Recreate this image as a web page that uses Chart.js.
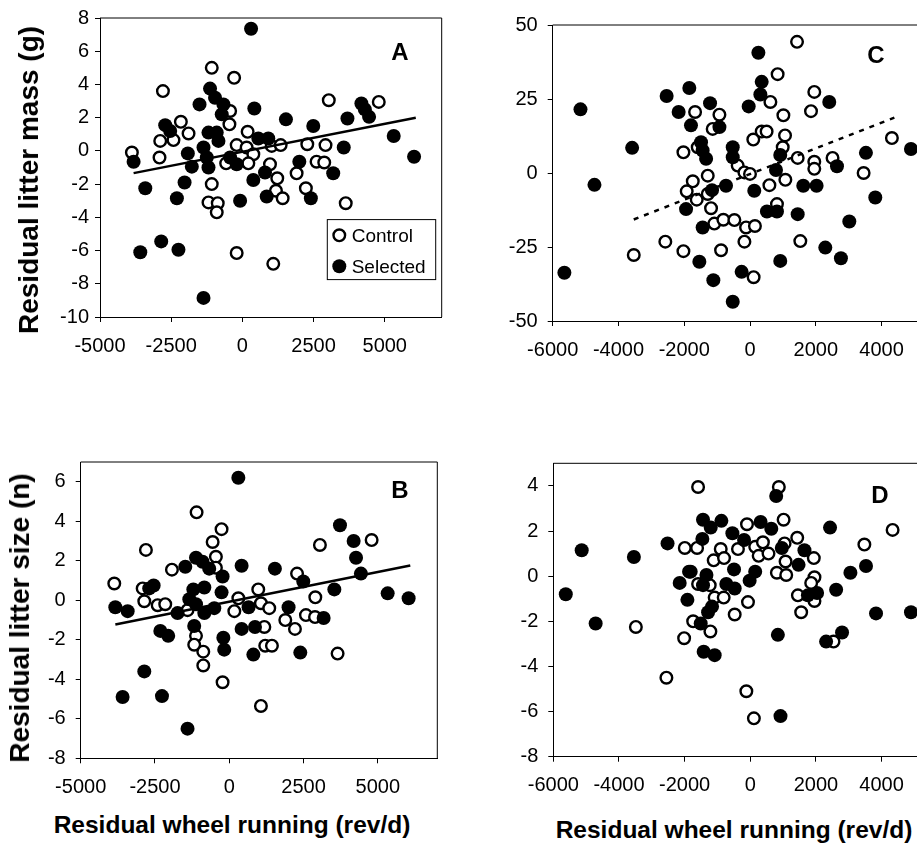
<!DOCTYPE html>
<html>
<head>
<meta charset="utf-8">
<title>Residual litter mass and size vs wheel running</title>
<script src="https://cdn.jsdelivr.net/npm/chart.js@4.4.1/dist/chart.umd.min.js"></script>
<style>
  html, body { margin: 0; padding: 0; background: #fff; width: 917px; height: 849px; overflow: hidden; }
  .panel { position: absolute; }
  .ttl { position: absolute; font-family: 'Liberation Sans', Arial, sans-serif; font-weight: bold; color: #000; white-space: nowrap; }
  .rot { transform: translate(-50%, -50%) rotate(-90deg); }
  .hor { transform: translate(-50%, -50%); }
</style>
</head>
<body>
<div class="panel" style="left:0px;top:0px;width:460px;height:380px"><canvas id="chartA"></canvas></div>
<div class="panel" style="left:0px;top:440px;width:460px;height:370px"><canvas id="chartB"></canvas></div>
<div class="panel" style="left:460px;top:0px;width:470px;height:380px"><canvas id="chartC"></canvas></div>
<div class="panel" style="left:460px;top:440px;width:470px;height:370px"><canvas id="chartD"></canvas></div>

<div class="ttl rot" style="left:29px;top:180px;font-size:28px">Residual litter mass (g)</div>
<div class="ttl rot" style="left:20px;top:618px;font-size:28px">Residual litter size (n)</div>
<div class="ttl hor" style="left:232px;top:825px;font-size:24.5px">Residual wheel running (rev/d)</div>
<div class="ttl hor" style="left:734px;top:830px;font-size:24.5px">Residual wheel running (rev/d)</div>

<script>
// tick labels
const xTicksAB = [-5000, -2500, 0, 2500, 5000];
const xTicksCD = [-6000, -4000, -2000, 0, 2000, 4000];
const yTicksA = [-10, -8, -6, -4, -2, 0, 2, 4, 6, 8];
const yTicksB = [-8, -6, -4, -2, 0, 2, 4, 6];
const yTicksC = [-50, -25, 0, 25, 50];
const yTicksD = [-8, -6, -4, -2, 0, 2, 4];

// A: residual litter mass (g) vs residual wheel running (rev/d)
const ctrlA = [[-3880,-0.1],[-2790,3.6],[-2885,0.6],[-2910,-0.4],[-2160,1.75],[-1890,1.05],[-2420,0.65],[-1075,5.0],[-290,4.4],[-430,2.4],[-455,1.6],[185,1.15],[-200,0.35],[150,0.2],[385,-0.2],[210,-0.75],[-570,-0.75],[-1075,-2.0],[-1190,-3.1],[-865,-3.15],[-900,-3.7],[-200,-6.15],[1085,-6.8],[970,-0.8],[1225,-1.65],[1180,-2.4],[1415,-2.85],[1030,0.3],[1345,0.35],[1905,-1.35],[2230,-2.25],[2280,0.4],[2920,0.35],[2605,-0.65],[2875,-0.7],[3035,3.05],[3630,-3.15],[4790,2.95]];
const selA = [[305,7.35],[-3820,-0.65],[-3410,-2.25],[-3585,-6.1],[-2850,-5.45],[-2245,-5.95],[-2300,-2.85],[-2030,-1.9],[-1775,-0.95],[-1915,-0.15],[-2710,1.55],[-2535,1.2],[-1365,-8.85],[-1505,2.8],[-1135,3.75],[-960,3.2],[-665,2.8],[-725,2.2],[-1190,1.1],[-900,1.1],[-840,0.6],[-1365,0.2],[-1250,-0.4],[-1190,-1.0],[-430,-0.4],[-200,-0.8],[-80,-3.0],[420,2.55],[560,0.75],[910,0.75],[385,-1.75],[795,-1.3],[855,-2.75],[1530,1.9],[2000,-0.65],[2405,-2.85],[2490,1.5],[3190,-1.35],[3560,0.2],[3690,1.95],[4180,2.85],[4450,2.05],[4300,2.5],[5315,0.9],[6030,-0.35]];
const lineA = [[-3820,-1.34],[6090,2.0]];

// B: residual litter size (n)
const ctrlB = [[-3870,0.85],[-2805,2.55],[-2915,0.6],[-2860,-0.05],[-2410,-0.25],[-2155,-0.2],[-1930,1.55],[-1100,4.45],[-260,3.6],[-560,2.95],[-450,2.2],[-450,1.65],[-1405,-0.5],[-1120,-1.8],[-1180,-2.25],[-875,-2.6],[-875,-3.3],[-225,-4.15],[305,0.1],[170,-0.55],[975,0.55],[1065,-0.15],[1345,-0.4],[1180,-1.35],[1210,-2.3],[1435,-2.3],[1065,-5.35],[1885,-1.0],[2210,-1.45],[2280,1.35],[2580,-0.75],[2885,-0.85],[2895,0.15],[3050,2.8],[3645,-2.7],[4790,3.05]];
const selB = [[305,6.2],[3725,3.8],[4185,3.0],[4265,2.15],[4430,1.35],[3535,0.55],[5330,0.35],[6035,0.1],[3175,-0.9],[2490,0.95],[2390,-2.65],[1995,-0.35],[1535,1.6],[810,-2.75],[415,-1.45],[865,-1.35],[415,1.75],[650,-0.35],[-225,1.2],[-260,0.4],[-170,-2.5],[-200,-1.9],[-1120,2.15],[-900,1.95],[-1480,1.7],[-675,1.6],[-840,0.65],[-1210,0.55],[-1345,0.05],[-1120,-0.2],[-840,-0.65],[-505,-0.4],[-1180,-1.3],[-2545,0.75],[-2695,0.6],[-3835,-0.35],[-3420,-0.55],[-2320,-1.55],[-2055,-1.8],[-1740,-0.65],[-2860,-3.6],[-3590,-4.9],[-2265,-4.85],[-1405,-6.5]];
const lineB = [[-3835,-1.23],[6090,1.76]];

// C: litter mass, second set
const ctrlC = [[1430,44.3],[840,33.4],[1955,27.4],[1855,20.9],[620,24.0],[1015,19.5],[-1670,20.6],[-930,19.7],[-1135,14.9],[100,11.3],[355,14.0],[505,14.0],[1065,12.7],[995,8.7],[-2025,7.0],[-1590,8.7],[1450,5.1],[1955,3.8],[1955,1.4],[2510,5.1],[3455,0.0],[4315,11.8],[-375,2.5],[-170,0.2],[0,-0.3],[590,-4.1],[1075,-2.3],[-1740,-2.8],[-1925,-6.2],[-1620,-9.0],[-1285,-0.9],[-1285,-7.1],[-1185,-11.9],[820,-10.5],[-1085,-17.1],[-810,-15.8],[-475,-15.9],[-120,-18.4],[150,-17.9],[-170,-23.2],[-2575,-23.2],[-2025,-26.4],[-880,-26.1],[-3535,-27.7],[1530,-23.0],[110,-35.2]];
const selC = [[255,40.6],[355,30.8],[315,26.5],[-40,22.5],[2410,24.0],[-1845,28.7],[-2535,26.0],[-2170,20.6],[-1215,23.6],[-1795,16.1],[-930,15.5],[-5155,21.5],[-3585,8.5],[-4730,-4.0],[-5645,-33.7],[-1490,10.4],[-1440,7.6],[-1335,4.8],[-525,8.7],[-525,5.3],[920,6.1],[790,1.0],[3525,6.8],[2645,2.3],[4895,8.1],[3810,-8.3],[1620,-4.3],[2025,-4.3],[130,-6.0],[-730,-4.3],[-1155,-5.8],[-1945,-12.2],[515,-13.0],[820,-13.0],[1450,-13.9],[-1440,-18.4],[3020,-16.4],[2290,-25.2],[2765,-28.8],[-1540,-30.0],[-1115,-36.2],[-255,-33.4],[-525,-43.5],[920,-29.7]];
const lineC = [[-3535,-15.7],[4390,18.7]];

// D: litter size, second set
const ctrlD = [[-1590,3.95],[870,3.95],[-100,2.3],[1015,2.5],[4335,2.05],[3475,1.4],[1430,1.7],[-1995,1.25],[-1620,1.25],[-900,1.2],[-375,1.2],[150,1.3],[385,1.5],[255,0.9],[555,1.0],[1045,1.45],[-1115,0.7],[-800,0.8],[1075,0.65],[1935,0.8],[810,0.15],[1095,0.05],[1955,-0.05],[1855,-0.3],[-1865,0.2],[-1590,-0.35],[-1235,-0.4],[-1085,-0.95],[-810,-0.95],[-70,-1.15],[-475,-1.7],[1450,-0.85],[1955,-1.1],[1550,-1.6],[-1740,-2.0],[-1215,-2.45],[-2015,-2.75],[-3485,-2.25],[2535,-2.9],[-2555,-4.5],[-120,-5.1],[110,-6.3]];
const selD = [[790,3.55],[-1440,2.5],[-1205,2.15],[-880,2.45],[315,2.4],[640,2.1],[-545,1.9],[-190,1.6],[-1460,1.65],[-2520,1.45],[-5135,1.15],[-3545,0.85],[-5620,-0.8],[-4710,-2.1],[-1815,0.2],[-2150,-0.3],[-1915,-1.05],[-1335,0.05],[-1440,-0.4],[-495,0.3],[-730,-0.35],[-475,-0.55],[150,0.2],[-20,-0.2],[-1165,-1.35],[-1285,-1.6],[-1510,-2.1],[-1420,-3.35],[-1085,-3.5],[840,-2.6],[920,-6.2],[960,1.25],[1650,1.15],[1470,0.5],[1755,-0.85],[2035,-0.75],[2430,2.15],[2615,-0.6],[3050,0.15],[3525,0.45],[3830,-1.65],[4895,-1.6],[2795,-2.5],[2310,-2.9]];

const FONT = "'Liberation Sans', Arial, sans-serif";
const toXY = arr => arr.map(p => ({x: p[0], y: p[1]}));

// frame (top/right), panel letter and the little legend box
const decor = {
    id: 'decor',
    afterDatasetsDraw(chart, args, opts) {
        const ctx = chart.ctx;
        const a = chart.chartArea;
        ctx.save();
        ctx.strokeStyle = '#000';
        ctx.lineWidth = 1;
        ctx.beginPath();
        ctx.moveTo(a.left, a.top);
        ctx.lineTo(a.right, a.top);
        ctx.lineTo(a.right, a.bottom);
        ctx.stroke();

        ctx.fillStyle = '#000';
        ctx.font = 'bold 24px ' + FONT;
        ctx.textAlign = 'center';
        ctx.textBaseline = 'middle';
        ctx.fillText(opts.letter, a.right + opts.lx, a.top + opts.ly);

        if (opts.legend) {
            const bx = a.right - 114.4, by = a.top + 201.6;
            ctx.fillStyle = '#fff';
            ctx.fillRect(bx, by, 108.4, 60);
            ctx.strokeRect(bx, by, 108.4, 60);
            ctx.font = '19px ' + FONT;
            ctx.textAlign = 'left';
            const names = chart.data.datasets.slice(0, 2);
            names.forEach((ds, i) => {
                const cy = by + 15.7 + i * 31;
                ctx.beginPath();
                ctx.arc(bx + 12, cy, ds.pointRadius, 0, Math.PI * 2);
                ctx.fillStyle = ds.backgroundColor;
                ctx.fill();
                if (ds.borderWidth) {
                    ctx.lineWidth = ds.borderWidth;
                    ctx.strokeStyle = ds.borderColor;
                    ctx.stroke();
                }
                ctx.fillStyle = '#000';
                ctx.fillText(ds.label, bx + 24.4, cy + 1);
            });
        }
        ctx.restore();
    }
};

function panel(id, o) {
    const ctx = document.getElementById(id).getContext('2d');
    const datasets = [
        {
            label: 'Control',
            data: toXY(o.ctrl),
            pointRadius: 5.8,
            borderWidth: 2.4,
            borderColor: '#000',
            backgroundColor: '#fff',
            order: 2
        },
        {
            label: 'Selected',
            data: toXY(o.sel),
            pointRadius: 7,
            borderWidth: 0,
            borderColor: '#000',
            backgroundColor: '#000',
            order: 1
        }
    ];
    if (o.line) {
        datasets.push({
            label: 'fit',
            data: toXY(o.line),
            showLine: true,
            pointRadius: 0,
            borderColor: '#000',
            borderWidth: 2.5,
            borderDash: o.dash || [],
            order: 0
        });
    }
    return new Chart(ctx, {
        type: 'scatter',
        data: { datasets: datasets },
        options: {
            responsive: true,
            maintainAspectRatio: false,
            animation: false,
            events: [],
            layout: { padding: o.pad },
            plugins: {
                legend: { display: false },
                tooltip: { enabled: false },
                decor: { letter: o.letter, lx: o.lx, ly: o.ly, legend: !!o.legend }
            },
            scales: {
                x: {
                    type: 'linear',
                    min: o.xMin,
                    max: o.xMax,
                    afterBuildTicks: s => { s.ticks = o.xTicks.map(v => ({value: v})); },
                    afterFit: s => { s.height = o.xH; },
                    grid: { drawOnChartArea: false, drawTicks: true, tickLength: 5, color: '#000' },
                    border: { display: true, color: '#000', width: 1 },
                    ticks: {
                        color: '#000',
                        padding: 12,
                        maxRotation: 0,
                        autoSkip: false,
                        font: { family: FONT, size: 20 },
                        callback: v => String(v)
                    }
                },
                y: {
                    type: 'linear',
                    min: o.yMin,
                    max: o.yMax,
                    afterBuildTicks: s => { s.ticks = o.yTicks.map(v => ({value: v})); },
                    afterFit: s => { s.width = o.yW; },
                    grid: { drawOnChartArea: false, drawTicks: true, tickLength: 5, color: '#000' },
                    border: { display: true, color: '#000', width: 1 },
                    ticks: {
                        color: '#000',
                        padding: o.yPad,
                        autoSkip: false,
                        font: { family: FONT, size: 20 },
                        callback: v => String(v)
                    }
                }
            }
        },
        plugins: [decor]
    });
}

panel('chartA', {
    ctrl: ctrlA, sel: selA, line: lineA,
    xMin: -5000, xMax: 7000, xTicks: xTicksAB,
    yMin: -10, yMax: 8, yTicks: yTicksA,
    pad: { left: 0, top: 16.7, right: 18.3, bottom: 0 },
    yW: 100, xH: 63, yPad: 6,
    letter: 'A', lx: -41.7, ly: 35.3, legend: true
});

panel('chartB', {
    ctrl: ctrlB, sel: selB, line: lineB,
    xMin: -5000, xMax: 7000, xTicks: xTicksAB,
    yMin: -8, yMax: 7, yTicks: yTicksB,
    pad: { left: 0, top: 20.7, right: 22.7, bottom: 0 },
    yW: 80.7, xH: 51.7, yPad: 10,
    letter: 'B', lx: -37.3, ly: 29.8
});

panel('chartC', {
    ctrl: ctrlC, sel: selC, line: lineC, dash: [5, 6],
    xMin: -6000, xMax: 5200, xTicks: xTicksCD,
    yMin: -50, yMax: 50, yTicks: yTicksC,
    pad: { left: 0, top: 25, right: 9, bottom: 0 },
    yW: 92.7, xH: 59, yPad: 10,
    letter: 'C', lx: -45, ly: 31.5
});

panel('chartD', {
    ctrl: ctrlD, sel: selD,
    xMin: -6000, xMax: 5200, xTicks: xTicksCD,
    yMin: -8, yMax: 5, yTicks: yTicksD,
    pad: { left: 0, top: 23.3, right: 9, bottom: 0 },
    yW: 93.3, xH: 53.3, yPad: 10,
    letter: 'D', lx: -41, ly: 32.7
});
</script>
</body>
</html>
